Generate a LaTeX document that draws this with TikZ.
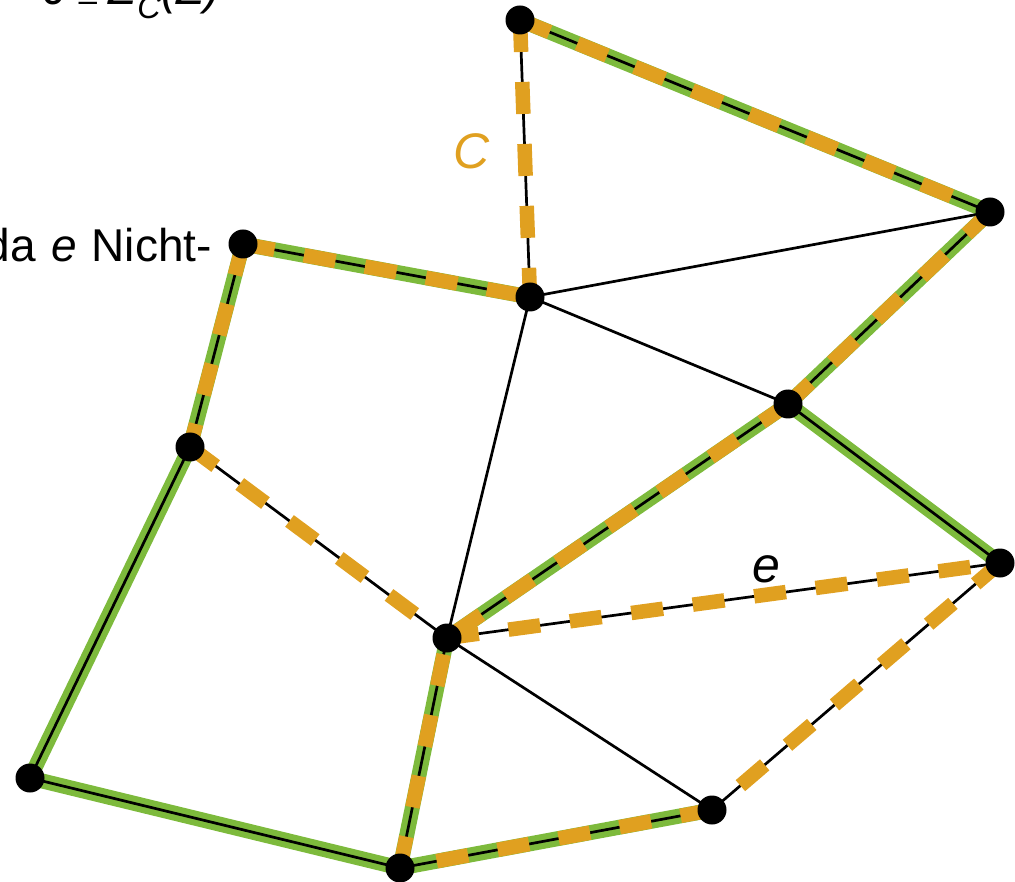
\documentclass[tikz,border=0pt]{standalone}
\usepackage{fontspec}
\setmainfont{Liberation Sans}
\newfontfamily\symfont{DejaVu Sans}
\definecolor{treegreen}{HTML}{7DBA3C}
\definecolor{cycorange}{HTML}{E0A020}
\begin{document}
\begin{tikzpicture}[x=1pt,y=-1pt,
  vtx/.style={circle,fill=black,inner sep=0pt,minimum size=29pt},
  treeedge/.style={treegreen,line width=15pt},
  plainedge/.style={black,line width=2.7pt},
  cycedge/.style={cycorange,line width=14.5pt,dash pattern=on 32pt off 30pt},
  lbl/.style={font=\fontsize{50}{56}\selectfont\itshape,inner sep=0pt},
  txt/.style={font=\fontsize{46}{52}\selectfont,inner sep=0pt}]
\useasboundingbox (0,0) rectangle (1015,882);
\coordinate (A) at (520,20);
\coordinate (B) at (990,212);
\coordinate (C) at (530,297);
\coordinate (D) at (243,244);
\coordinate (E) at (788,404);
\coordinate (F) at (190,447);
\coordinate (G) at (1000,563);
\coordinate (H) at (447,638);
\coordinate (I) at (30,778);
\coordinate (J) at (712,810);
\coordinate (K) at (400,868);
% tree edges
\foreach \u/\v in {A/B,D/C,D/F,B/E,E/H,E/G,F/I,I/K,H/K,K/J}
  \draw[treeedge] (\u) -- (\v);
% all edges
\foreach \u/\v in {A/B,A/C,D/C,D/F,C/B,C/E,C/H,B/E,E/H,E/G,G/H,G/J,F/H,F/I,I/K,H/K,K/J,H/J}
  \draw[plainedge] (\u) -- (\v);
% cycle edges
\foreach \u/\v in {A/B,A/C,D/C,D/F,F/H,B/E,E/H,H/G,G/J,J/K,K/H}
  \draw[cycedge] (\u) -- (\v);
% vertices
\foreach \p in {A,B,C,D,E,F,G,H,I,J,K}
  \node[vtx] (n\p) at (\p) {};
% labels
\node[lbl,text=cycorange] (lC) at (472,151) {C};
\node[lbl] (le) at (766,569) {e};
\node[txt,anchor=base east] (tnicht) at (212,262) {da\hspace{15pt}\textit{e}\hspace{15pt}Nicht-};
\node[txt,anchor=base west] (ttop) at (44,5) {\textit{J}\,{\symfont\fontsize{30}{34}\selectfont ⊆}\,\textit{Z}\textsubscript{\textit{C}}\textit{(Z)}};
\end{tikzpicture}
\end{document}
